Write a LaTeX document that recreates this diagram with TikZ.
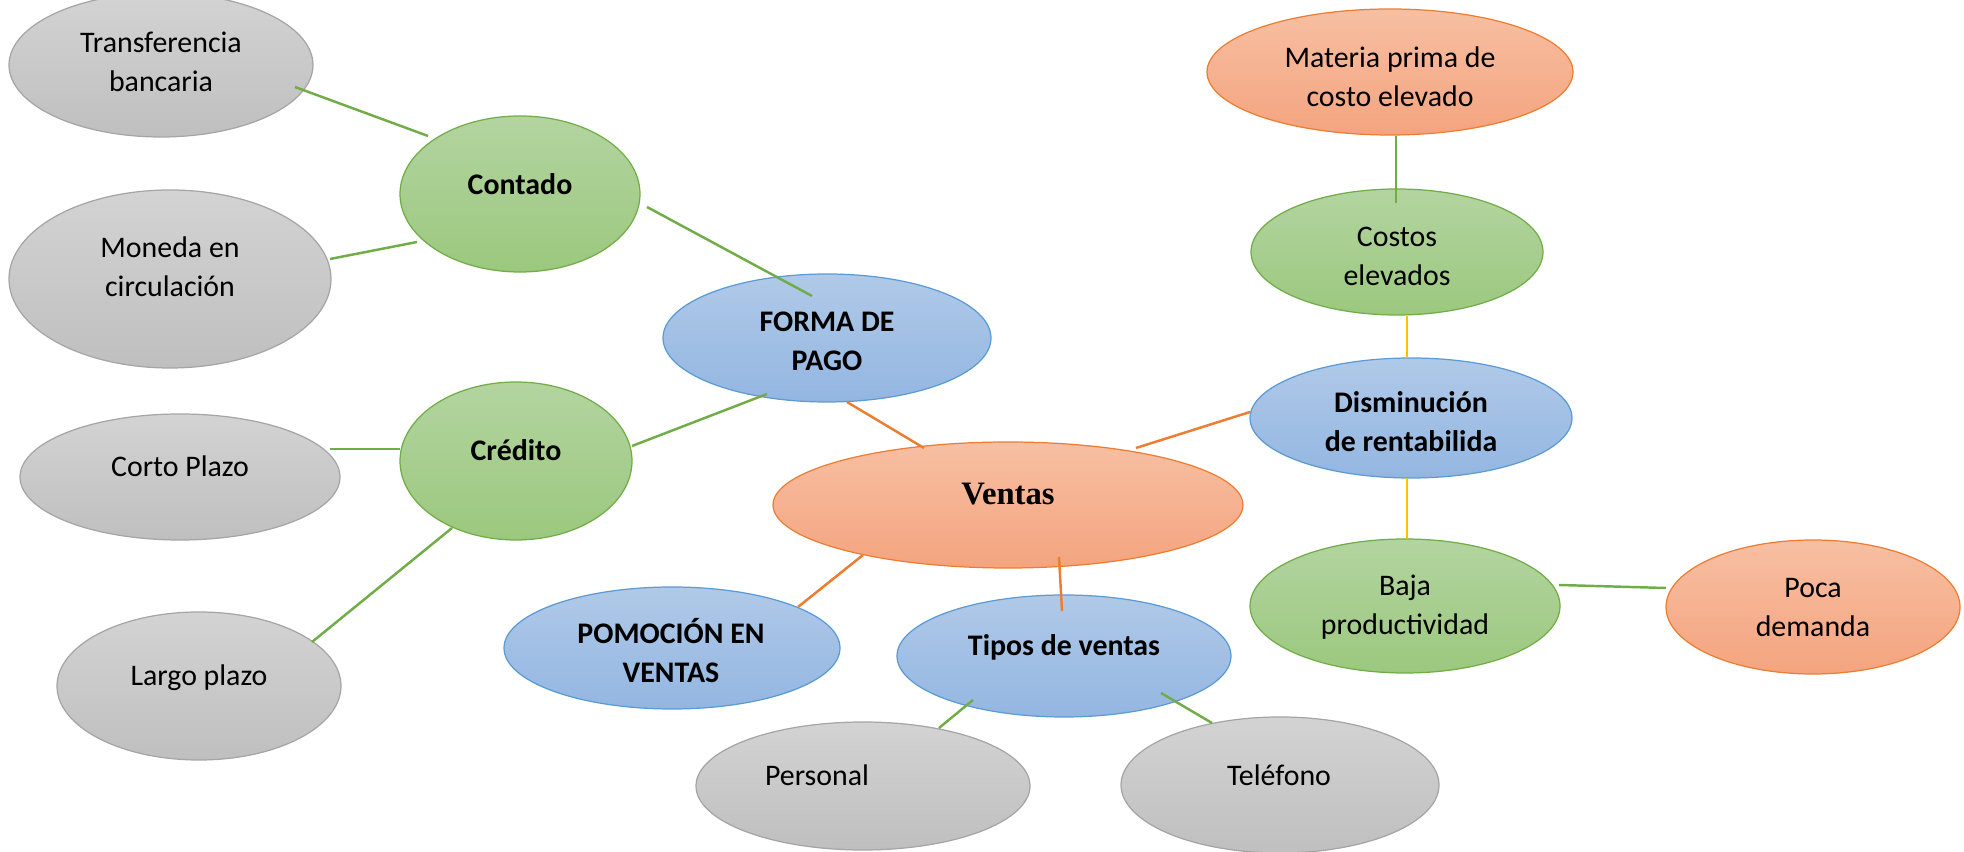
\documentclass[tikz,border=0pt]{standalone}
\usepackage{fontspec}
\setmainfont{Carlito}
\newfontfamily\venfont{Liberation Serif}
\usetikzlibrary{shapes.geometric}
\definecolor{grayT}{HTML}{D3D3D3}
\definecolor{grayB}{HTML}{BFBFBF}
\definecolor{grayE}{HTML}{A5A5A5}
\definecolor{greenT}{HTML}{B3D4A0}
\definecolor{greenB}{HTML}{9BC87E}
\definecolor{greenE}{HTML}{70AD47}
\definecolor{blueT}{HTML}{B0C9E8}
\definecolor{blueB}{HTML}{93B6E1}
\definecolor{blueE}{HTML}{5B9BD5}
\definecolor{orT}{HTML}{F7BFA2}
\definecolor{orB}{HTML}{F4A47F}
\definecolor{orE}{HTML}{ED7D31}
\definecolor{yelE}{HTML}{FFC000}
\tikzset{
  ell/.style={shape=ellipse, inner sep=0pt, line width=0.35pt, shading=axis, shading angle=0},
  sz/.style 2 args={minimum width=#1*0.1mm, minimum height=#2*0.1mm},
  gry/.style={ell, draw=grayE, top color=grayT, bottom color=grayB},
  grn/.style={ell, draw=greenE, top color=greenT, bottom color=greenB},
  blu/.style={ell, draw=blueE, top color=blueT, bottom color=blueB},
  org/.style={ell, draw=orE, top color=orT, bottom color=orB},
  txt/.style={align=center, inner sep=0pt, font=\fontsize{8.5}{11.1}\selectfont},
  txtb/.style={txt, font=\fontsize{8.5}{11.1}\selectfont\bfseries},
  gcon/.style={draw=greenE, line width=0.7pt},
  ocon/.style={draw=orE, line width=0.7pt},
  ycon/.style={draw=yelE, line width=0.7pt}
}
\begin{document}
\begin{tikzpicture}[x=0.1mm, y=-0.1mm]
\useasboundingbox (0,0) rectangle (1964,852);
% ellipses
\node[gry, sz={304}{144}] (trans) at (161,65) {};
\node[gry, sz={322}{178}] (moneda) at (170,279) {};
\node[grn, sz={240}{156}] (contado) at (520,194) {};
\node[blu, sz={328}{128}] (forma) at (827,338) {};
\node[grn, sz={232}{158}] (credito) at (516,461) {};
\node[gry, sz={320}{126}] (corto) at (180,477) {};
\node[gry, sz={284}{148}] (largo) at (199,686) {};
\node[org, sz={470}{126}] (ventas) at (1008,505) {};
\node[blu, sz={336}{122}] (pom) at (672,648) {};
\node[blu, sz={334}{122}] (tipos) at (1064,656) {};
\node[gry, sz={334}{128}] (personal) at (863,786) {};
\node[gry, sz={318}{136}] (tel) at (1280,785) {};
\node[org, sz={366}{126}] (materia) at (1390,72) {};
\node[grn, sz={292}{126}] (costos) at (1397,252) {};
\node[blu, sz={322}{120}] (dism) at (1411,418) {};
\node[grn, sz={310}{134}] (baja) at (1405,606) {};
\node[org, sz={294}{134}] (poca) at (1813,607) {};
% connectors
\draw[gcon] ([shift={(134,22)}]trans.center) -- ([shift={(-92,-58)}]contado.center);
\draw[gcon] ([shift={(160,-20)}]moneda.center) -- ([shift={(-103,48)}]contado.center);
\draw[gcon] ([shift={(127,13)}]contado.center) -- ([shift={(-15,-42)}]forma.center);
\draw[gcon] ([shift={(116,-15)}]credito.center) -- ([shift={(-60,56)}]forma.center);
\draw[gcon] ([shift={(150,-28)}]corto.center) -- ([shift={(-116,-12)}]credito.center);
\draw[gcon] ([shift={(113,-44)}]largo.center) -- ([shift={(-64,67)}]credito.center);
\draw[ocon] ([shift={(20,64)}]forma.center) -- ([shift={(-84,-57)}]ventas.center);
\draw[ocon] ([shift={(128,-57)}]ventas.center) -- ([shift={(-161,-6)}]dism.center);
\draw[ocon] ([shift={(-145,50)}]ventas.center) -- ([shift={(126,-41)}]pom.center);
\draw[ocon] ([shift={(51,52)}]ventas.center) -- ([shift={(-2,-45)}]tipos.center);
\draw[gcon] ([shift={(-91,44)}]tipos.center) -- ([shift={(76,-58)}]personal.center);
\draw[gcon] ([shift={(97,37)}]tipos.center) -- ([shift={(-68,-62)}]tel.center);
\draw[gcon] ([shift={(6,64)}]materia.center) -- ([shift={(-1,-49)}]costos.center);
\draw[ycon] ([shift={(10,64)}]costos.center) -- ([shift={(-4,-60)}]dism.center);
\draw[ycon] ([shift={(-4,60)}]dism.center) -- ([shift={(2,-67)}]baja.center);
\draw[gcon] ([shift={(154,-21)}]baja.center) -- ([shift={(-147,-19)}]poca.center);
% texts
\node[txt] (t-trans) at (161,62) {Transferencia\\bancaria};
\node[txt] (t-moneda) at (170,267) {Moneda en\\circulación};
\node[txtb, text depth=0pt] (t-contado) at (520,184) {Contado};
\node[txtb] (t-forma) at (827,341) {FORMA DE\\PAGO};
\node[txtb, text depth=0pt] (t-credito) at (516,450) {Crédito};
\node[txt, text depth=0pt] (t-corto) at (180,466) {Corto Plazo};
\node[txt, text depth=0pt] (t-largo) at (199,675) {Largo plazo};
\node[align=center, inner sep=0pt, text depth=0pt, font=\venfont\fontsize{9.3}{11}\selectfont\bfseries] (t-ventas) at (1008,494) {Ventas};
\node[txtb] (t-pom) at (671,651) {POMOCIÓN EN\\VENTAS};
\node[txtb, text depth=0pt] (t-tipos) at (1064,645) {Tipos de ventas};
\node[txt, text depth=0pt] (t-personal) at (817,775) {Personal};
\node[txt, text depth=0pt] (t-tel) at (1279,775) {Teléfono};
\node[txt] (t-materia) at (1390,77) {Materia prima de\\costo elevado};
\node[txt] (t-costos) at (1397,256) {Costos\\elevados};
\node[txtb] (t-dism) at (1411,422) {Disminución\\de rentabilida};
\node[txt] (t-baja) at (1405,607) {Baja\\productividad};
\node[txt] (t-poca) at (1813,608) {Poca\\demanda};
\end{tikzpicture}
\end{document}
